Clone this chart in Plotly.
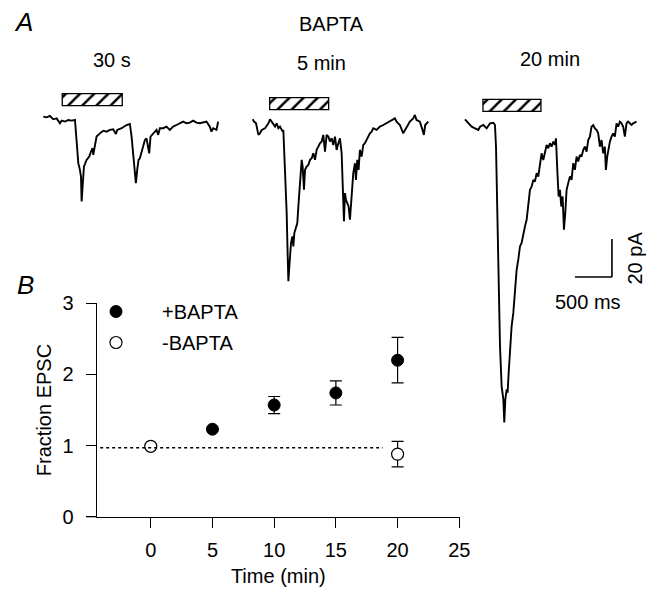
import plotly.graph_objects as go

W, H = 654, 591
FONT = "Liberation Sans, Arial, sans-serif"

# ---------------- Panel A: EPSC traces (time in ms from trace start, current in pA rel. to baseline)
t_30s_ms = [0, 45, 90, 135, 180, 225, 248, 293, 338, 383, 428, 450, 473, 495, 509, 518, 531, 549, 585, 621,
            644, 666, 675, 698, 720, 765, 810, 855, 900, 945, 981, 999, 1058, 1125, 1170, 1193, 1215, 1238, 1251, 1269,
            1287, 1305, 1350, 1373, 1395, 1418, 1431, 1449, 1485, 1530, 1553, 1575, 1620, 1665, 1710, 1755, 1800, 1845,
            1890, 1935, 1980, 2025, 2070, 2115, 2160, 2205, 2250, 2273, 2295, 2340, 2363]
i_30s_pA = [1.4, 1.05, 1.75, 0, 0.5, -2.1, -0.7, -1.2, -0.35, -0.7, -0.35, -10.9, -23.1, -26.6, -30.1, -43.2, -31.9,
            -24.9, -21.4, -19.6, -17.0, -15.2, -18.7, -12.6, -9.1, -7.4, -6.0, -6.5, -5.6, -5.25, -7.7, -5.6, -4.7,
            -3.0, -2.45, -9.1, -17.9, -24.9, -33.6, -26.6, -21.4, -20.5, -14.4, -10.9, -10.0, -14.4, -17.9, -9.1,
            -7.4, -5.6, -8.2, -4.7, -4.7, -3.85, -5.6, -3.85, -3.0, -2.1, -1.2, -2.1, -1.75, -0.7, -1.75, -2.1,
            -1.75, -1.2, -3.85, -6.5, -4.7, -5.6, -1.2]

t_5min_ms = [0, 18, 45, 77, 99, 122, 167, 212, 234, 257, 279, 302, 324, 347, 369, 405, 414, 428, 446, 459, 473,
             482, 495, 504, 518, 536, 549, 563, 581, 603, 617, 639, 662, 675, 693, 707, 729, 752, 774, 797, 819, 842,
             864, 887, 909, 932, 954, 977, 999, 1022, 1044, 1067, 1089, 1112, 1134, 1157, 1179, 1202, 1215, 1233,
             1247, 1260, 1278, 1296, 1314, 1328, 1341, 1359, 1382, 1395, 1413, 1431, 1449, 1472, 1494, 1517, 1539,
             1562, 1584, 1607, 1629, 1674, 1719, 1764, 1809, 1854, 1899, 1922, 1944, 1989, 2034, 2057, 2079, 2124,
             2169, 2192, 2214, 2259, 2295, 2313, 2331, 2372]
i_5min_pA = [2.1, 0.9, 0, -6.1, -5.25, -3.5, -2.6, 0, 2.1, 0.9, -0.9, -1.75, 0, -2.6, -1.75, -4.4, -3.5, -15.75,
             -29.75, -47.25, -70.0, -83.1, -75.25, -70.0, -63.0, -59.5, -64.75, -57.75, -55.1, -52.5, -43.75, -31.5,
             -19.25, -22.75, -35.0, -24.5, -22.75, -21.9, -19.25, -18.4, -15.75, -19.25, -14.0, -12.25, -10.5, -9.6,
             -6.1, -14.9, -6.1, -7.0, -9.6, -7.9, -11.4, -7.0, -14.0, -10.5, -7.9, -15.75, -29.75, -51.6, -36.75,
             -40.25, -42.0, -43.75, -50.75, -42.0, -36.75, -26.25, -21.0, -29.75, -19.25, -24.5, -14.0, -17.5, -11.4,
             -10.5, -8.75, -7.0, -5.25, -4.4, -2.6, -3.5, -1.75, -0.9, 0, 0.9, 1.75, 2.6, 0.9, -0.9, -5.25, -3.5,
             -1.75, 0.9, 2.6, 4.4, 1.75, 0.9, -3.5, -6.1, -0.9, 0.9]

t_20min_ms = [0, 45, 90, 135, 180, 203, 248, 293, 338, 383, 405, 419, 437, 455, 473, 495, 518, 531, 545, 563, 576,
              590, 608, 630, 653, 675, 698, 720, 743, 765, 788, 810, 833, 855, 878, 900, 923, 945, 968, 990, 1013,
              1035, 1058, 1080, 1103, 1125, 1148, 1170, 1193, 1215, 1229, 1247, 1265, 1283, 1301, 1319, 1337, 1355,
              1373, 1395, 1418, 1440, 1463, 1485, 1508, 1530, 1553, 1575, 1598, 1620, 1643, 1665, 1688, 1710, 1733,
              1755, 1778, 1800, 1823, 1845, 1868, 1890, 1904, 1922, 1940, 1958, 1980, 2003, 2025, 2048, 2070, 2093,
              2115, 2138, 2160, 2183, 2205, 2228, 2250, 2273, 2318]
i_20min_pA = [3.0, 0.9, -0.9, -1.75, -2.6, -0.9, 0, -1.75, 0.9, 1.2, 0, -11.4, -46.4, -81.4, -116.4, -137.4, -144.4,
              -156.6, -144.4, -139.1, -140.9, -130.4, -116.4, -105.9, -98.9, -84.9, -76.1, -70.9, -63.9, -62.1, -56.9,
              -53.4, -49.9, -42.9, -34.1, -32.4, -28.9, -29.75, -25.4, -27.1, -20.1, -14.9, -18.4, -14.9, -10.5,
              -12.25, -9.6, -11.4, -8.75, -10.5, -7.0, -23.6, -37.6, -34.1, -42.9, -37.6, -55.1, -46.4, -34.1, -30.6,
              -27.1, -28.9, -20.1, -23.6, -16.6, -19.25, -15.75, -16.6, -13.1, -11.4, -14.0, -7.9, -6.1, -0.9, 0,
              -1.75, -2.6, -4.4, -11.4, -7.9, -14.9, -11.4, -23.6, -16.6, -11.4, -8.75, -6.1, -4.4, -6.1, 0.9, -0.9,
              1.75, 0.9, -0.9, -6.1, 0.9, 1.75, 0.9, 0, 0.9, 1.75]

trace_labels = ["30 s", "5 min", "20 min"]
stim_start_ms = [270, 243, 248]
stim_end_ms = [1080, 1035, 1035]
stim_box_pA = [6.8, 13.0]   # vertical extent of the hatched stimulus box

scale_bar_ms = 500
scale_bar_pA = 20

# ---------------- Panel B: fraction EPSC vs time
bapta_time = [5, 10, 15, 20]
bapta_frac = [1.23, 1.57, 1.74, 2.20]
bapta_err = [0.0, 0.12, 0.17, 0.32]
ctrl_time = [0, 20]
ctrl_frac = [0.99, 0.88]
ctrl_err = [0.0, 0.18]
x_ticks = [0, 5, 10, 15, 20, 25]
y_ticks = [0, 1, 2, 3]

# ---------------- layout helpers (pixel -> paper)
def px(x):
    return x / W

def py(y):
    return 1 - y / H

MS_PER_PX = 500 / 37.0
PA_PER_PX = 20 / 38.0
XR = [-100, 2500]
YR = [-170, 20]
starts_px = [43.3, 252.7, 465.0]
base_px = [119.3, 123.3, 125.0]

fig = go.Figure()
traces_t = [t_30s_ms, t_5min_ms, t_20min_ms]
traces_i = [i_30s_pA, i_5min_pA, i_20min_pA]
layout_axes = {}
for k in range(3):
    assert len(traces_t[k]) == len(traces_i[k])
    n = "" if k == 0 else str(k + 1)
    xa, ya = "x" + n, "y" + n
    x0 = starts_px[k] + XR[0] / MS_PER_PX
    x1 = starts_px[k] + XR[1] / MS_PER_PX
    ytop = base_px[k] - YR[1] / PA_PER_PX
    ybot = base_px[k] - YR[0] / PA_PER_PX
    layout_axes["xaxis" + n] = dict(domain=[px(x0), px(x1)], range=XR, visible=False, anchor=ya, automargin=False)
    layout_axes["yaxis" + n] = dict(domain=[py(ybot), py(ytop)], range=YR, visible=False, anchor=xa, automargin=False)
    fig.add_trace(go.Bar(
        x=[(stim_start_ms[k] + stim_end_ms[k]) / 2], y=[stim_box_pA[1] - stim_box_pA[0]],
        base=[stim_box_pA[0]], width=[stim_end_ms[k] - stim_start_ms[k]],
        xaxis=xa, yaxis=ya, showlegend=False, hoverinfo="skip",
        marker=dict(color="white", line=dict(color="black", width=1.3),
                    pattern=dict(shape="/", fgcolor="black", bgcolor="white", size=10, solidity=0.25))))
    fig.add_trace(go.Scatter(x=traces_t[k], y=traces_i[k], mode="lines", xaxis=xa, yaxis=ya,
                             line=dict(color="black", width=1.9), showlegend=False, hoverinfo="skip"))

# scale bar on third trace's axes
sb_x = 1986
sb_y = -80
shapes = [
    dict(type="line", xref="x3", yref="y3", x0=sb_x, x1=sb_x, y0=sb_y, y1=sb_y + scale_bar_pA,
         line=dict(color="black", width=1.6)),
    dict(type="line", xref="x3", yref="y3", x0=sb_x - scale_bar_ms, x1=sb_x, y0=sb_y, y1=sb_y,
         line=dict(color="black", width=1.6)),
]

# ---------------- Panel B
fig.add_trace(go.Scatter(
    x=bapta_time, y=bapta_frac, mode="markers", name="+BAPTA", xaxis="x4", yaxis="y4",
    legendgroup="a", cliponaxis=False,
    marker=dict(symbol="circle", size=12, color="black", line=dict(color="black", width=1)),
    error_y=dict(type="data", array=bapta_err, visible=True, color="black", thickness=1.2, width=6)))
fig.add_trace(go.Scatter(
    x=ctrl_time, y=ctrl_frac, mode="markers", name="-BAPTA", xaxis="x4", yaxis="y4",
    legendgroup="b", cliponaxis=False,
    marker=dict(symbol="circle", size=12, color="white", line=dict(color="black", width=1.2)),
    error_y=dict(type="data", array=ctrl_err, visible=True, color="black", thickness=1.2, width=6)))

layout_axes["xaxis4"] = dict(
    domain=[px(96.7), px(459.9)], range=[-4.38, 25.05], anchor="y4", automargin=False,
    tickmode="array", tickvals=x_ticks, ticks="outside", ticklen=10, tickwidth=1.2, tickcolor="black",
    ticklabelstandoff=5,
    showline=True, linecolor="black", linewidth=1.2, showgrid=False, zeroline=False,
    tickfont=dict(size=20, color="black", family=FONT),
    title=dict(text="Time (min)", font=dict(size=20, color="black", family=FONT), standoff=9))
layout_axes["yaxis4"] = dict(
    domain=[py(516.7), py(303.3)], range=[0, 3], anchor="x4", automargin=False,
    tickmode="array", tickvals=y_ticks, ticks="outside", ticklen=10, tickwidth=1.2, tickcolor="black",
    ticklabelstandoff=8,
    showline=True, linecolor="black", linewidth=1.2, showgrid=False, zeroline=False,
    tickfont=dict(size=20, color="black", family=FONT),
    title=dict(text="Fraction EPSC", font=dict(size=20, color="black", family=FONT), standoff=5))

# x-axis line extends slightly left of y axis
shapes.append(dict(type="line", xref="paper", yref="paper", x0=px(86), x1=px(96.7), y0=py(516.7), y1=py(516.7),
                   line=dict(color="black", width=1.2)))
# dotted reference line
shapes.append(dict(type="line", xref="x4", yref="y4", x0=-4.1, x1=18.8, y0=0.97, y1=0.97,
                   line=dict(color="black", width=1.6, dash="dot")))

annotations = [
    dict(text="<i>A</i>", x=px(23), y=py(22), font=dict(size=26)),
    dict(text="<i>B</i>", x=px(25), y=py(285), font=dict(size=26)),
    dict(text="BAPTA", x=px(331), y=py(24.5)),
    dict(text=trace_labels[0], x=px(112), y=py(60)),
    dict(text=trace_labels[1], x=px(321), y=py(62.5)),
    dict(text=trace_labels[2], x=px(550), y=py(59)),
    dict(text="%d ms" % scale_bar_ms, x=px(588), y=py(302)),
    dict(text="%d pA" % scale_bar_pA, x=px(634), y=py(258.5), textangle=-90),
]
for a in annotations:
    a.update(xref="paper", yref="paper", showarrow=False, xanchor="center", yanchor="middle")
    f = dict(size=20, color="black", family=FONT)
    f.update(a.get("font", {}))
    a["font"] = f

fig.update_layout(
    template="none",
    width=W, height=H, margin=dict(l=0, r=0, t=0, b=0, autoexpand=False),
    paper_bgcolor="white", plot_bgcolor="rgba(0,0,0,0)",
    font=dict(family=FONT, color="black", size=20),
    showlegend=True,
    legend=dict(x=px(70), y=py(292), xanchor="left", yanchor="top", bgcolor="rgba(0,0,0,0)",
                font=dict(size=20, color="black", family=FONT), itemwidth=82,
                tracegroupgap=2, traceorder="grouped"),
    shapes=shapes, annotations=annotations, bargap=0,
    **layout_axes,
)

fig.write_html("out.html", config={"displayModeBar": False},
               post_script="document.body.style.margin='0';document.body.style.overflow='hidden';")
